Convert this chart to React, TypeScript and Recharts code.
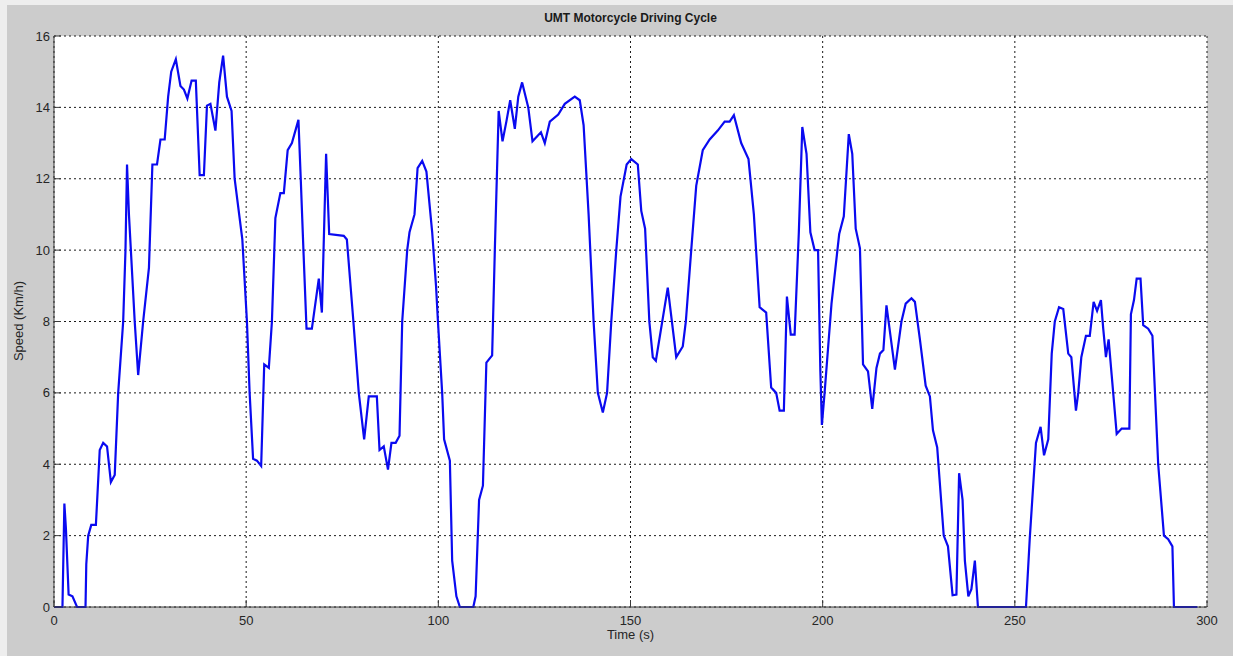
import React from "react";
import { CartesianGrid, Line, LineChart, XAxis, YAxis } from "recharts";

// time (s) and speed (km/h)
const time = [
  0, 2.2, 2.7, 3.1, 3.8, 4.8, 6.0, 8.2, 8.4, 8.9,
  9.7, 10.9, 11.9, 12.8, 13.8, 14.8, 15.8, 16.7, 18.0, 18.6,
  19.0, 19.5, 20.0, 21.0, 21.9, 23.2, 24.7, 25.6, 26.8, 27.7,
  28.8, 29.7, 30.5, 31.7, 32.9, 33.8, 34.7, 35.8, 36.9, 37.9,
  39.0, 39.8, 40.7, 42.0, 43.0, 44.0, 45.0, 46.2, 47.0, 49.0,
  50.2, 50.9, 51.8, 52.8, 53.9, 54.7, 55.9, 56.7, 57.6, 58.9,
  59.8, 60.8, 61.9, 63.6, 64.2, 64.9, 65.7, 67.1, 68.9, 69.7,
  70.8, 71.6, 75.4, 76.2, 77.9, 79.3, 80.7, 81.9, 84.0, 84.7,
  85.8, 86.9, 87.8, 88.9, 89.9, 90.6, 91.9, 92.5, 93.8, 94.6,
  95.8, 96.9, 98.4, 99.4, 99.9, 101.0, 101.5, 103.0, 103.6, 104.7,
  105.6, 109.1, 109.7, 110.6, 111.6, 112.5, 114.0, 114.7, 115.7, 116.7,
  117.7, 118.7, 119.9, 120.8, 121.8, 123.4, 124.5, 126.7, 127.7, 129.0,
  131.2, 132.9, 135.5, 136.8, 137.8, 139.1, 140.4, 141.5, 142.8, 143.9,
  145.0, 146.3, 147.4, 149.0, 150.2, 151.9, 152.8, 153.8, 154.9, 155.8,
  156.6, 159.7, 161.9, 163.6, 164.4, 165.8, 167.1, 168.8, 170.6, 172.7,
  174.5, 175.8, 176.9, 178.8, 180.7, 182.1, 183.6, 185.3, 186.6, 187.9,
  188.8, 189.9, 190.7, 191.7, 192.7, 193.8, 194.7, 195.8, 196.8, 197.9,
  198.8, 199.4, 199.8, 200.5, 202.3, 204.3, 205.5, 206.8, 207.7, 208.6,
  209.7, 210.5, 211.8, 212.9, 214.0, 214.9, 215.8, 216.6, 218.8, 220.5,
  221.6, 223.1, 224.0, 225.3, 226.8, 227.9, 228.7, 229.8, 231.5, 232.6,
  233.8, 234.8, 235.5, 236.4, 237.0, 237.9, 238.7, 239.6, 240.4, 252.9,
  253.9, 255.5, 256.7, 257.6, 258.7, 259.6, 260.4, 261.5, 262.6, 263.9,
  264.7, 265.9, 266.5, 267.3, 268.5, 269.5, 270.5, 271.4, 272.4, 273.0,
  273.7, 274.4, 275.2, 276.5, 277.8, 279.8, 280.2, 281.0, 281.7, 282.7,
  283.4, 284.7, 285.8, 287.3, 288.8, 289.9, 291.0, 291.4, 297.5,
];

const speed = [
  0, 0, 2.9, 2.2, 0.35, 0.3, 0, 0, 1.2, 2.0,
  2.3, 2.3, 4.4, 4.6, 4.5, 3.5, 3.7, 6.0, 8.0, 10.0,
  12.4, 11.0, 10.0, 8.0, 6.5, 8.0, 9.5, 12.4, 12.4, 13.1,
  13.1, 14.3, 15.0, 15.35, 14.6, 14.5, 14.25, 14.75, 14.75, 12.1,
  12.1, 14.05, 14.1, 13.35, 14.7, 15.45, 14.3, 13.9, 12.0, 10.3,
  8.0, 6.0, 4.15, 4.1, 3.95, 6.8, 6.7, 8.0, 10.9, 11.6,
  11.6, 12.8, 13.0, 13.65, 12.0, 10.0, 7.8, 7.8, 9.2, 8.25,
  12.7, 10.45, 10.4, 10.3, 8.0, 6.0, 4.7, 5.9, 5.9, 4.4,
  4.5, 3.85, 4.6, 4.6, 4.8, 8.0, 10.0, 10.5, 11.0, 12.3,
  12.5, 12.2, 10.5, 9.0, 8.0, 6.0, 4.7, 4.1, 1.3, 0.3,
  0, 0, 0.3, 3.0, 3.4, 6.85, 7.05, 10.0, 13.9, 13.05,
  13.6, 14.2, 13.4, 14.3, 14.7, 14.0, 13.05, 13.3, 13.0, 13.6,
  13.8, 14.1, 14.3, 14.2, 13.5, 11.0, 8.0, 6.0, 5.45, 6.0,
  8.0, 10.0, 11.5, 12.4, 12.55, 12.4, 11.1, 10.6, 8.0, 7.0,
  6.9, 8.95, 7.0, 7.3, 8.0, 10.0, 11.8, 12.8, 13.1, 13.35,
  13.6, 13.6, 13.78, 13.0, 12.55, 11.0, 8.4, 8.25, 6.15, 6.0,
  5.5, 5.5, 8.7, 7.63, 7.63, 10.5, 13.45, 12.7, 10.5, 10.0,
  10.0, 6.6, 5.1, 6.0, 8.5, 10.45, 10.95, 13.25, 12.7, 10.6,
  10.05, 6.8, 6.6, 5.55, 6.7, 7.1, 7.2, 8.45, 6.65, 8.0,
  8.5, 8.65, 8.55, 7.5, 6.2, 5.9, 4.95, 4.47, 2.0, 1.7,
  0.33, 0.35, 3.75, 3.0, 1.3, 0.3, 0.5, 1.3, 0, 0,
  1.95, 4.6, 5.05, 4.25, 4.7, 7.1, 8.0, 8.4, 8.35, 7.1,
  7.0, 5.5, 6.0, 7.0, 7.6, 7.6, 8.55, 8.3, 8.6, 7.8,
  7.0, 7.5, 6.5, 4.85, 5.0, 5.0, 8.2, 8.6, 9.2, 9.2,
  7.9, 7.8, 7.6, 4.0, 2.0, 1.9, 1.7, 0, 0,
];

const xTicks = [0, 50, 100, 150, 200, 250, 300];
const yTicks = [0, 2, 4, 6, 8, 10, 12, 14, 16];

const data = time.map((t, i) => ({ t, v: speed[i] }));

const font = "'Liberation Sans', Arial, Helvetica, sans-serif";
const tickStyle = { fontSize: 13, fill: "#262626", fontFamily: font };
const axisColor = "#3a3a3a";

const App = () => {
  return (
    <div
      style={{
        position: "absolute",
        left: 0,
        top: 0,
        width: 1233,
        height: 656,
        background: "#eeeeee",
        fontFamily: font,
      }}
    >
      <div
        style={{
          position: "absolute",
          left: 7,
          top: 5,
          right: 0,
          bottom: 0,
          background: "#cccccc",
        }}
      />
      <div
        style={{
          position: "absolute",
          left: 54,
          width: 1153,
          top: 11,
          textAlign: "center",
          fontWeight: "bold",
          fontSize: 12,
          color: "#1a1a1a",
        }}
      >
        UMT Motorcycle Driving Cycle
      </div>
      <div
        style={{
          position: "absolute",
          left: 54,
          width: 1153,
          top: 627,
          textAlign: "center",
          fontSize: 13,
          color: "#262626",
        }}
      >
        Time (s)
      </div>
      <div
        style={{
          position: "absolute",
          left: 18,
          top: 321,
          transform: "translate(-50%, -50%) rotate(-90deg)",
          whiteSpace: "nowrap",
          fontSize: 13,
          color: "#262626",
        }}
      >
        Speed (Km/h)
      </div>
      <div style={{ position: "absolute", left: 0, top: 0 }}>
        <LineChart
          width={1233}
          height={656}
          data={data}
          margin={{ top: 36, right: 26, bottom: 19, left: 10 }}
        >
          <CartesianGrid
            fill="#ffffff"
            stroke="#1a1a1a"
            strokeDasharray="2 3"
          />
          <XAxis
            dataKey="t"
            type="number"
            domain={[0, 300]}
            ticks={xTicks}
            height={30}
            tickSize={-7}
            tickMargin={16}
            tick={tickStyle}
            stroke={axisColor}
          />
          <XAxis
            xAxisId="top"
            orientation="top"
            dataKey="t"
            type="number"
            domain={[0, 300]}
            ticks={xTicks}
            height={0}
            tickSize={-7}
            tick={false}
            stroke={axisColor}
          />
          <YAxis
            type="number"
            domain={[0, 16]}
            ticks={yTicks}
            width={44}
            tickSize={-7}
            tickMargin={11}
            tick={tickStyle}
            stroke={axisColor}
          />
          <YAxis
            yAxisId="right"
            orientation="right"
            type="number"
            domain={[0, 16]}
            ticks={yTicks}
            width={0}
            tickSize={-7}
            tick={false}
            stroke={axisColor}
          />
          <Line
            type="linear"
            dataKey="v"
            stroke="#0a0af0"
            strokeWidth={2.2}
            dot={false}
            isAnimationActive={false}
          />
        </LineChart>
      </div>
    </div>
  );
};

export default App;
